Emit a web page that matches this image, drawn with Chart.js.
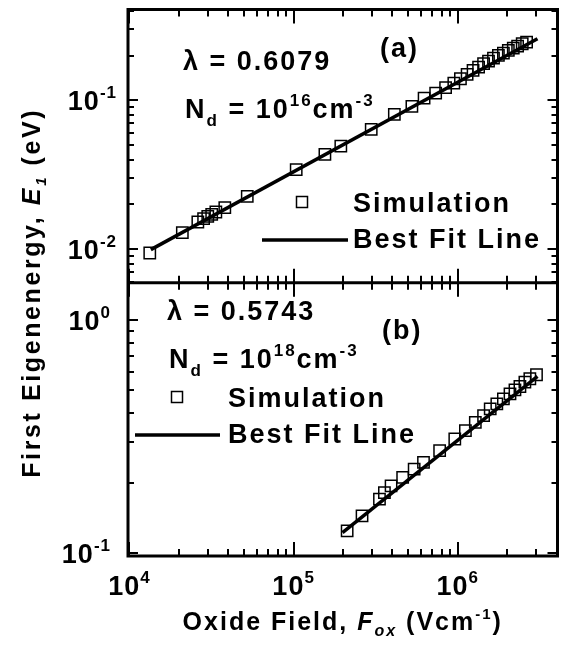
<!DOCTYPE html>
<html>
<head>
<meta charset="utf-8">
<script src="https://cdn.jsdelivr.net/npm/chart.js@4/dist/chart.umd.min.js"></script>
<style>
  html, body { margin: 0; padding: 0; background: #fff; }
</style>
</head>
<body>
<canvas id="grafico" width="567" height="655"></canvas>
<script>
// panel (a): Nd = 1e16 cm^-3
const fieldA = [13300, 21000, 26100, 28300, 30000, 31700, 33600, 38100, 52200, 103700,
  155100, 193900, 297000, 410800, 525400, 623400, 733400, 843000, 946000, 1038000,
  1140000, 1239000, 1339000, 1436000, 1539000, 1650000, 1768000, 1896000, 2032000,
  2178000, 2315000, 2469000, 2625000];
const energyA = [0.00944, 0.01295, 0.01525, 0.01607, 0.01665, 0.01718, 0.0178, 0.01906,
  0.02268, 0.03426, 0.04341, 0.04934, 0.06388, 0.08056, 0.09116, 0.1036, 0.1119, 0.1217,
  0.1306, 0.1398, 0.1494, 0.159, 0.1673, 0.1764, 0.1835, 0.1922, 0.2004, 0.2077, 0.2166,
  0.2244, 0.2314, 0.2402, 0.2462];
const fitFieldA = [13500, 3058000];
const fitEnergyA = [0.00995, 0.2595];

// panel (b): Nd = 1e18 cm^-3
const fieldB = [211900, 261100, 333400, 357400, 392300, 461600, 542400, 618200, 775400,
  959000, 1113000, 1279000, 1436000, 1576000, 1729000, 1896000, 2080000, 2230000,
  2391000, 2563000, 2748000, 3017000];
const energyB = [0.1244, 0.1443, 0.1704, 0.1819, 0.1944, 0.2112, 0.2295, 0.245, 0.2752,
  0.3091, 0.3357, 0.3643, 0.3895, 0.4163, 0.4375, 0.4597, 0.4831, 0.5027, 0.5194,
  0.5421, 0.5607, 0.5834];
const fitFieldB = [198500, 3058000];
const fitEnergyB = [0.1224, 0.5736];

const lambdaA = '0.6079', lambdaB = '0.5743';
const expA = '16', expB = '18';

const FONT = '"Liberation Sans", Arial, sans-serif';
const pts = (xs, ys) => xs.map((x, i) => ({ x: x, y: ys[i] }));

// texto em partes (sobrescrito/subscrito/italico)
function drawRuns(ctx, parts, x, y, align, spacing) {
  ctx.save();
  ctx.letterSpacing = (spacing || 0) + 'px';
  let w = 0;
  parts.forEach(p => {
    ctx.font = (p.it ? 'italic ' : '') + 'bold ' + p.s + 'px ' + FONT;
    p.w = ctx.measureText(p.t).width;
    w += p.w;
  });
  let cx = align === 'center' ? x - w / 2 : align === 'right' ? x - w : x;
  parts.forEach(p => {
    ctx.font = (p.it ? 'italic ' : '') + 'bold ' + p.s + 'px ' + FONT;
    ctx.fillText(p.t, cx, y + (p.dy || 0));
    cx += p.w;
  });
  ctx.restore();
}

function logTicks(scale) {
  const out = [];
  const k0 = Math.floor(Math.log10(scale.min)), k1 = Math.ceil(Math.log10(scale.max));
  for (let k = k0; k <= k1; k++) {
    for (let m = 1; m <= 9; m++) {
      const v = m * Math.pow(10, k);
      if (v >= scale.min && v <= scale.max) out.push({ v: v, major: m === 1, k: k });
    }
  }
  return out;
}

const decor = {
  id: 'decor',
  afterDraw(chart) {
    const ctx = chart.ctx;
    const a = chart.chartArea;
    const x = chart.scales.x, ya = chart.scales.ya, yb = chart.scales.yb;
    ctx.save();
    ctx.strokeStyle = '#000';
    ctx.fillStyle = '#000';

    // ticks (para dentro)
    ctx.lineWidth = 2;
    ctx.beginPath();
    logTicks(x).forEach(t => {
      const px = Math.round(x.getPixelForValue(t.v));
      const len = t.major ? 14 : 7;
      [[a.top, 1], [ya.bottom, -1], [yb.top, 1], [a.bottom, -1]].forEach(([y0, d]) => {
        ctx.moveTo(px, y0); ctx.lineTo(px, y0 + d * len);
      });
    });
    [ya, yb].forEach(s => {
      logTicks(s).forEach(t => {
        const py = Math.round(s.getPixelForValue(t.v));
        const len = t.major ? 10 : 6;
        ctx.moveTo(a.left, py); ctx.lineTo(a.left + len, py);
        ctx.moveTo(a.right, py); ctx.lineTo(a.right - len, py);
      });
    });
    ctx.stroke();

    // moldura
    ctx.lineWidth = 3;
    ctx.strokeRect(a.left, a.top, a.right - a.left, a.bottom - a.top);
    ctx.beginPath();
    ctx.moveTo(a.left, ya.bottom); ctx.lineTo(a.right, ya.bottom);
    ctx.stroke();

    // rotulos dos ticks
    ctx.textBaseline = 'alphabetic';
    logTicks(x).filter(t => t.major).forEach(t => {
      drawRuns(ctx, [{ t: '10', s: 27 }, { t: String(t.k), s: 17, dy: -12 }],
        x.getPixelForValue(t.v), 595, 'center', 1);
    });
    [[ya, 11], [yb, 17]].forEach(([s, gap]) => {
      logTicks(s).filter(t => t.major).forEach(t => {
        drawRuns(ctx, [{ t: '10', s: 27 }, { t: String(t.k), s: 17, dy: -12 }],
          a.left - gap, s.getPixelForValue(t.v) + 10, 'right', 1);
      });
    });

    // titulos dos eixos
    drawRuns(ctx, [{ t: 'Oxide Field, ', s: 25 }, { t: 'F', s: 25, it: true },
      { t: 'ox', s: 16, it: true, dy: 6 }, { t: ' (Vcm', s: 25 }, { t: '-1', s: 15, dy: -11 },
      { t: ')', s: 25 }], (a.left + a.right) / 2, 630, 'center', 2);
    ctx.save();
    ctx.translate(40, (a.top + a.bottom) / 2 + 10);
    ctx.rotate(-Math.PI / 2);
    drawRuns(ctx, [{ t: 'First Eigenenergy, ', s: 25 }, { t: 'E', s: 25, it: true },
      { t: '1', s: 15, it: true, dy: 6 }, { t: ' (eV)', s: 25 }], 0, 0, 'center', 2.6);
    ctx.restore();

    // anotacoes e legendas de cada painel
    const panel = (lam, ex, tag, lx, base, tagX, tagY, leg) => {
      drawRuns(ctx, [{ t: '\u03bb = ' + lam, s: 27 }], lx, base, 'left', 2);
      drawRuns(ctx, [{ t: tag, s: 27 }], tagX, tagY, 'left', 2);
      drawRuns(ctx, [{ t: 'N', s: 27 }, { t: 'd', s: 17, dy: 8 }, { t: ' = 10', s: 27 },
        { t: ex, s: 17, dy: -12 }, { t: 'cm', s: 27 }, { t: '-3', s: 17, dy: -12 }],
        lx + 2, base + 48, 'left', 2);
      // simbolo + linha
      ctx.lineWidth = 1.5;
      ctx.strokeRect(leg.sx - 5.5, leg.sy - 5.5, 11, 11);
      ctx.lineWidth = 3.5;
      ctx.beginPath(); ctx.moveTo(leg.l0, leg.ly); ctx.lineTo(leg.l1, leg.ly); ctx.stroke();
      drawRuns(ctx, [{ t: 'Simulation', s: 27 }], leg.tx, leg.sy + 10, 'left', 2);
      drawRuns(ctx, [{ t: 'Best Fit Line', s: 27 }], leg.tx, leg.ly + 8, 'left', 2);
    };
    panel(lambdaA, expA, '(a)', a.left + 55, 70, a.left + 252, 57,
      { sx: 302, sy: 202, l0: 262, l1: 348, ly: 240, tx: 353 });
    panel(lambdaB, expB, '(b)', a.left + 39, 320, a.left + 254, 339,
      { sx: 177, sy: 397, l0: 135, l1: 220, ly: 435, tx: 228 });

    ctx.restore();
  }
};

const lineStyle = { showLine: true, borderColor: '#000', borderWidth: 3.5, pointRadius: 0, fill: false };
const squareStyle = { showLine: false, pointStyle: 'rect', pointRadius: 8, borderColor: '#000',
  backgroundColor: 'rgba(0,0,0,0)', pointBorderWidth: 1.5 };

new Chart(document.getElementById('grafico'), {
  type: 'scatter',
  data: {
    datasets: [
      Object.assign({ label: 'Best Fit Line (a)', data: pts(fitFieldA, fitEnergyA), yAxisID: 'ya' }, lineStyle),
      Object.assign({ label: 'Best Fit Line (b)', data: pts(fitFieldB, fitEnergyB), yAxisID: 'yb' }, lineStyle),
      Object.assign({ label: 'Simulation (a)', data: pts(fieldA, energyA), yAxisID: 'ya' }, squareStyle),
      Object.assign({ label: 'Simulation (b)', data: pts(fieldB, energyB), yAxisID: 'yb' }, squareStyle)
    ]
  },
  options: {
    responsive: false,
    animation: false,
    devicePixelRatio: 1,
    layout: { padding: { top: 9, right: 4, left: 0, bottom: 0 } },
    plugins: { legend: { display: false }, tooltip: { enabled: false } },
    scales: {
      x: {
        type: 'logarithmic', min: 9800, max: 4050000,
        grid: { display: false }, border: { display: false }, ticks: { display: false },
        afterFit: s => { s.height = 99; }
      },
      // painel de baixo declarado primeiro: o layout empilha os eixos da esquerda ao contrario
      yb: {
        type: 'logarithmic', position: 'left', stack: 'paineis', stackWeight: 1,
        min: 0.0971, max: 1.45,
        grid: { display: false }, border: { display: false }, ticks: { display: false },
        afterFit: s => { s.width = 128; }
      },
      ya: {
        type: 'logarithmic', position: 'left', stack: 'paineis', stackWeight: 1,
        min: 0.00596, max: 0.408,
        grid: { display: false }, border: { display: false }, ticks: { display: false },
        afterFit: s => { s.width = 128; }
      }
    }
  },
  plugins: [decor]
});
</script>
</body>
</html>
